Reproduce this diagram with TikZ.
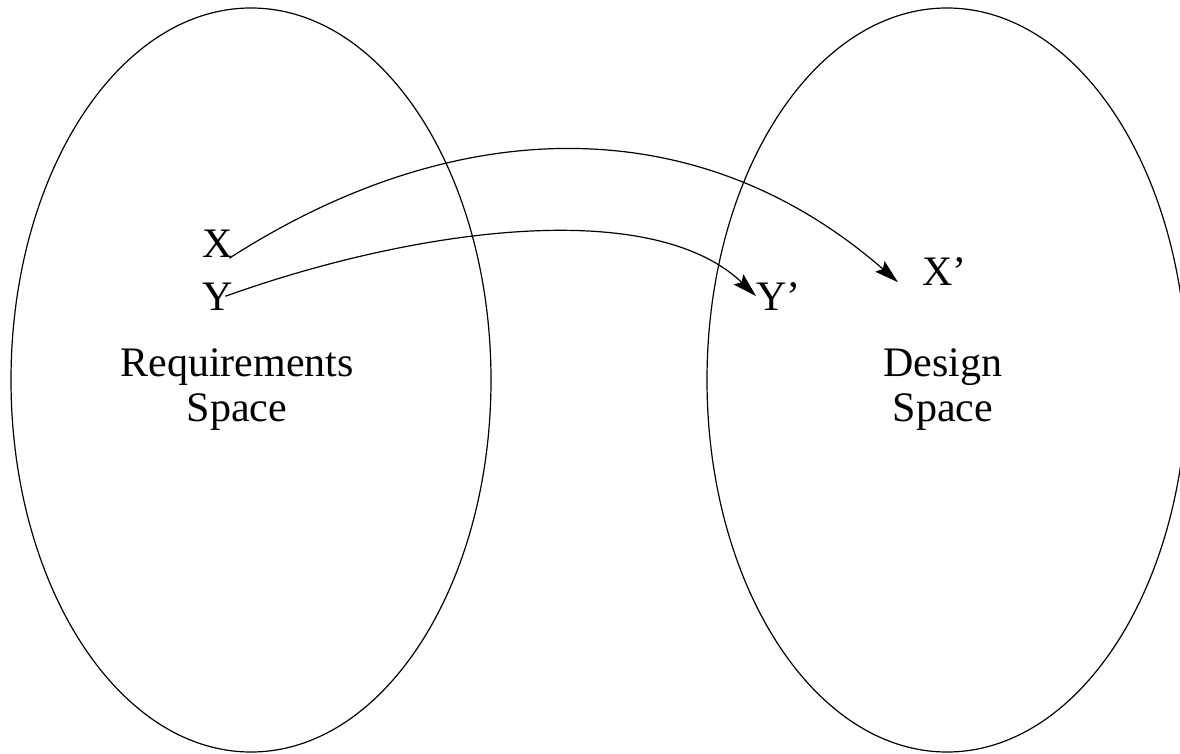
\documentclass[tikz,border=0pt]{standalone}
\usepackage{fontspec}
\setmainfont{Liberation Serif}
\usetikzlibrary{arrows.meta,calc}
\begin{document}
\begin{tikzpicture}[x=1pt,y=-1pt,
  space/.style={draw,line width=1.2pt},
  lbl/.style={inner sep=0pt,font=\fontsize{42}{45}\selectfont},
  arr/.style={line width=1.2pt,-{Stealth[length=24pt,width=14pt,inset=4pt]}}]
\useasboundingbox (0,0) rectangle (1180,754);
\draw[space] (251,380) ellipse [x radius=240pt, y radius=372pt];
\draw[space] (947,380) ellipse [x radius=240pt, y radius=372pt];
\node[lbl,align=center] (req) at (237,390) {Requirements\\Space};
\node[lbl,align=center] (des) at (943,390) {Design\\Space};
\node[lbl,anchor=base] (X) at (218,257) {X};
\node[lbl,anchor=base] (Y) at (218,310) {Y};
\node[lbl,anchor=base west] (Yp) at (756,310) {Y'};
\node[lbl,anchor=base west] (Xp) at (922,285) {X'};
\draw[arr] ($(X.south east)+(-4,1)$) .. controls (455,113) and (697,107) .. ($(Xp.south west)+(-24,-3)$);
\draw[arr] ($(Y.east)+(-8,0)$) .. controls (410,230) and (650,195) .. (Yp.west);
\end{tikzpicture}
\end{document}
